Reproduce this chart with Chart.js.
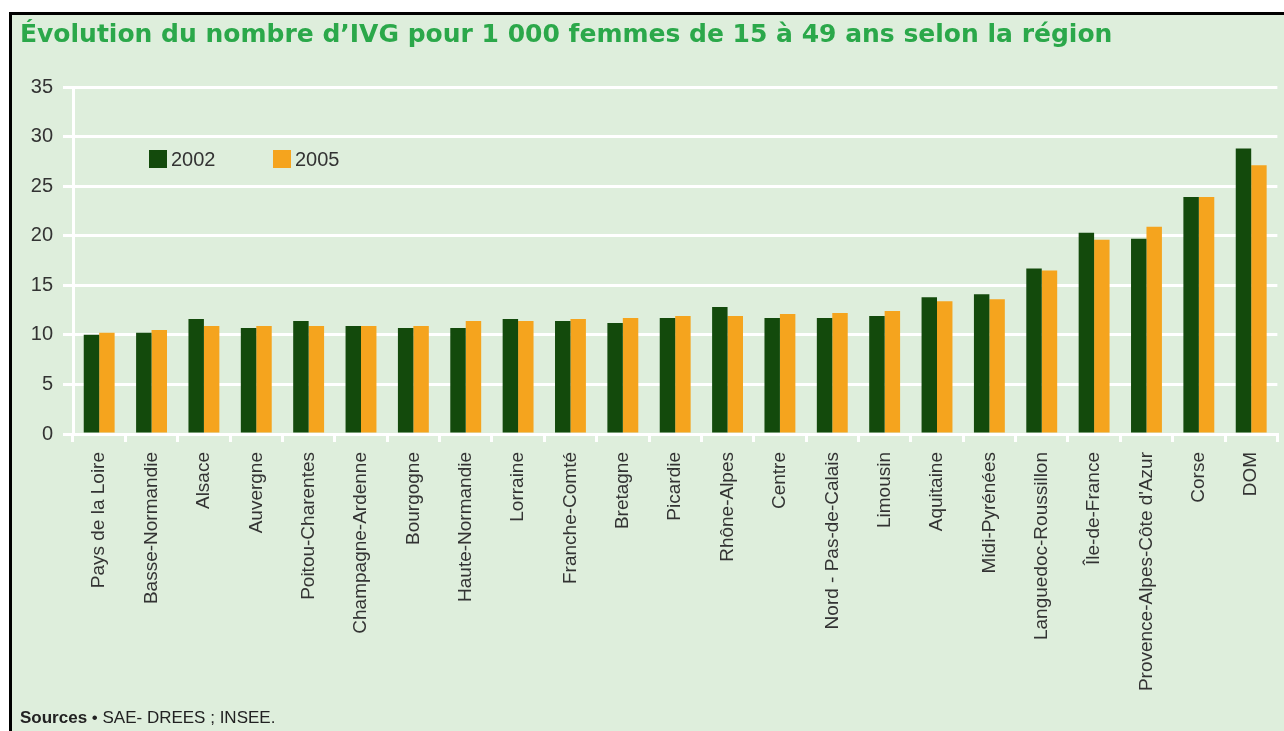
<!DOCTYPE html>
<html lang="fr">
<head>
<meta charset="utf-8">
<title>Évolution du nombre d’IVG pour 1 000 femmes de 15 à 49 ans selon la région</title>
<script src="https://cdn.jsdelivr.net/npm/chart.js@4/dist/chart.umd.min.js"></script>
<style>
  html, body { margin: 0; padding: 0; background: #ffffff; width: 1284px; height: 731px; overflow: hidden; }
  #frame { position: absolute; left: 9px; top: 12px; width: 1272px; height: 716px;
           border-top: 3px solid #000; border-left: 3px solid #000; background: #deeedc; }
  #c { position: absolute; left: 0; top: 0; }
  #src { position: absolute; left: 8px; top: 693px; font: 17px "Liberation Sans", Arial, sans-serif; color: #222; }
  #src b { font-weight: bold; }
</style>
</head>
<body>
<div id="frame">
  <canvas id="c" width="1272" height="716"></canvas>
  <div id="src"><b>Sources</b> • SAE- DREES ; INSEE.</div>
</div>
<script>
const titleText = "Évolution du nombre d’IVG pour 1 000 femmes de 15 à 49 ans selon la région";
const categories = ["Pays de la Loire","Basse-Normandie","Alsace","Auvergne","Poitou-Charentes","Champagne-Ardenne","Bourgogne","Haute-Normandie","Lorraine","Franche-Comté","Bretagne","Picardie","Rhône-Alpes","Centre","Nord - Pas-de-Calais","Limousin","Aquitaine","Midi-Pyrénées","Languedoc-Roussillon","Île-de-France","Provence-Alpes-Côte d'Azur","Corse","DOM"];
const seriesNames = ["2002", "2005"];
const values2002 = [10.0,10.2,11.6,10.7,11.4,10.9,10.7,10.7,11.6,11.4,11.2,11.7,12.8,11.7,11.7,11.9,13.8,14.1,16.7,20.3,19.7,23.9,28.8];
const values2005 = [10.2,10.5,10.9,10.9,10.9,10.9,10.9,11.4,11.4,11.6,11.7,11.9,11.9,12.1,12.2,12.4,13.4,13.6,16.5,19.6,20.9,23.9,27.1];
const yMin = 0, yMax = 35, yStep = 5;

const GREEN = "#134a0c", ORANGE = "#f5a41e", TXT = "#333333";

const innerLegend = {
  id: "innerLegend",
  afterDraw(chart) {
    const ctx = chart.ctx, a = chart.chartArea;
    const xs = [a.left + 76, a.left + 200];
    const y = a.top + 63;
    ctx.save();
    ctx.font = '20px "Liberation Sans", Arial, sans-serif';
    ctx.textBaseline = "middle";
    ctx.textAlign = "left";
    chart.data.datasets.forEach((ds, i) => {
      ctx.fillStyle = ds.backgroundColor;
      ctx.fillRect(xs[i], y, 18, 18);
      ctx.fillStyle = TXT;
      ctx.fillText(ds.label, xs[i] + 22, y + 10);
    });
    ctx.restore();
  }
};

new Chart(document.getElementById("c"), {
  type: "bar",
  data: {
    labels: categories,
    datasets: [
      { label: seriesNames[0], data: values2002, backgroundColor: GREEN, borderWidth: 0 },
      { label: seriesNames[1], data: values2005, backgroundColor: ORANGE, borderWidth: 0 }
    ]
  },
  options: {
    responsive: false,
    animation: false,
    devicePixelRatio: 1,
    layout: { padding: { left: 8, right: 0, top: 0, bottom: 0 } },
    datasets: { bar: { categoryPercentage: 0.59, barPercentage: 1.0 } },
    plugins: {
      legend: { display: false },
      tooltip: { enabled: false },
      title: {
        display: true, text: titleText, align: "start", color: "#2ba84a",
        font: { family: "DejaVu Sans", size: 25, weight: "bold", lineHeight: 1.2 },
        padding: { top: 5, bottom: 37 }
      }
    },
    scales: {
      x: {
        offset: true,
        grid: { offset: true, drawOnChartArea: false, drawTicks: true, tickLength: 8, color: "#ffffff", lineWidth: 3 },
        border: { display: true, color: "#ffffff", width: 3 },
        ticks: { minRotation: 90, maxRotation: 90, autoSkip: false, padding: 10, color: TXT,
                 font: { family: "Liberation Sans", size: 19 } },
        afterFit(scale) { scale.height = 297; }
      },
      y: {
        min: yMin, max: yMax,
        grid: { color: "#ffffff", lineWidth: 3, drawTicks: true, tickLength: 10 },
        border: { display: true, color: "#ffffff", width: 3 },
        ticks: { stepSize: yStep, padding: 10, color: TXT, font: { family: "Liberation Sans", size: 20 } },
        afterFit(scale) { scale.width = 53; }
      }
    }
  },
  plugins: [innerLegend]
});
</script>
</body>
</html>
